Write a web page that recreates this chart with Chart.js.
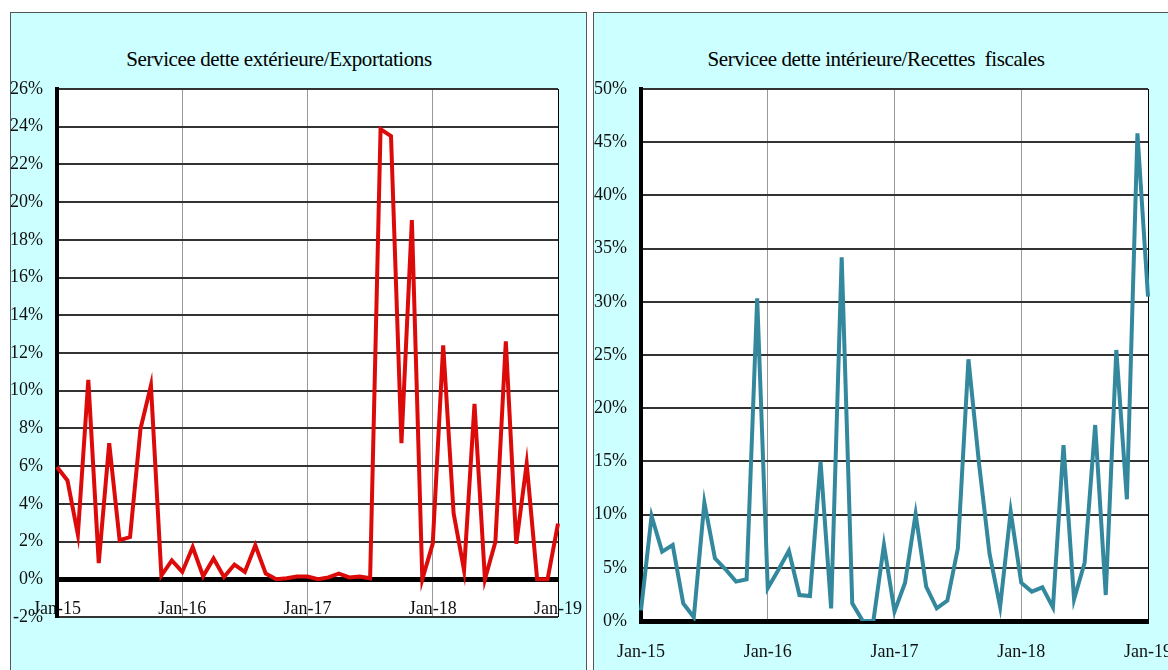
<!DOCTYPE html>
<html>
<head>
<meta charset="utf-8">
<script src="https://cdn.jsdelivr.net/npm/chart.js@4.4.1/dist/chart.umd.min.js"></script>
<style>
  body { margin: 0; width: 1168px; height: 670px; overflow: hidden; position: relative; background: #fff; font-family: "Liberation Serif", serif; }
  .panel { position: absolute; top: 12px; height: 680px; background: #ccffff; border: 1px solid #555; box-sizing: border-box; }
  #panel1 { left: 10px; width: 577px; }
  #panel2 { left: 593px; width: 620px; }
  .title { position: absolute; top: 47px; font-size: 21px; line-height: 24px; letter-spacing: -0.4px; text-align: center; color: #000; }
  #title1 { left: 0; width: 558px; }
  #title2 { left: 593px; width: 566px; }
  canvas { position: absolute; }
  #chart1 { left: 10px; top: 12px; }
  #chart2 { left: 593px; top: 12px; }
</style>
</head>
<body>
<div class="panel" id="panel1"></div>
<div class="panel" id="panel2"></div>
<div class="title" id="title1">Servicee dette extérieure/Exportations</div>
<div class="title" id="title2">Servicee dette intérieure/Recettes&nbsp; fiscales</div>
<canvas id="chart1" width="577" height="658"></canvas>
<canvas id="chart2" width="575" height="658"></canvas>
<script>
// months Jan-15 .. Jan-19
const monthNames = ["Jan","Feb","Mar","Apr","May","Jun","Jul","Aug","Sep","Oct","Nov","Dec"];
const years = ["15","16","17","18"];
const tickLabels = ["Jan-15","Jan-16","Jan-17","Jan-18","Jan-19"];

let months = [];
years.forEach((y) => {
  monthNames.forEach((m) => months.push(m + "-" + y));
});
months.push("Jan-19");

// Servicee dette extérieure / Exportations (%)
const extValues = [
  5.95, 5.24, 2.38, 10.58, 0.86, 7.22, 2.07, 2.24, 7.98, 10.28, 0.2, 1.0,
  0.39, 1.71, 0.16, 1.1, 0.12, 0.78, 0.39, 1.8, 0.3, 0.0, 0.05, 0.15,
  0.15, 0.0, 0.1, 0.3, 0.1, 0.15, 0.05, 23.87, 23.5, 7.22, 19.05, 0.0,
  1.89, 12.4, 3.5, 0.48, 9.3, 0.0, 1.98, 12.62, 1.89, 6.13, 0.0, 0.0, 2.95
];

// Servicee dette intérieure / Recettes fiscales (%)
const intValues = [
  1.0, 9.87, 6.52, 7.14, 1.66, 0.35, 11.12, 5.89, 4.86, 3.7, 3.92, 30.33,
  3.07, 4.79, 6.61, 2.44, 2.35, 14.97, 1.19, 34.18, 1.66, 0.0, 0.0, 7.14,
  0.9, 3.6, 10.06, 3.23, 1.19, 1.91, 6.83, 24.6, 14.82, 6.3, 1.35, 10.28,
  3.6, 2.76, 3.16, 1.28, 16.54, 2.04, 5.48, 18.42, 2.44, 25.47, 11.44, 45.83, 30.48
];

// white plot area
const plotBg = {
  id: "plotBg",
  beforeDraw(chart) {
    const a = chart.chartArea;
    const ctx = chart.ctx;
    ctx.save();
    ctx.fillStyle = "#fff";
    ctx.fillRect(a.left, a.top, a.right - a.left, a.bottom - a.top);
    ctx.restore();
  },
};

const tickFont = { family: "Liberation Serif", size: 18 };

function xTick(value) {
  const label = this.getLabelForValue(value);
  return tickLabels.includes(label) ? label : "";
}

function xGridColor(ctx) {
  if (ctx.index === months.length - 1) return "#000";
  return ctx.index % 12 === 0 ? "#999" : "rgba(0,0,0,0)";
}

const config1 = {
  type: "line",
  data: {
    labels: months,
    datasets: [
      {
        data: extValues,
        borderColor: "#dd0a0a",
        borderWidth: 4,
        pointRadius: 0,
        tension: 0,
        fill: false,
      },
    ],
  },
  options: {
    responsive: false,
    animation: false,
    layout: { padding: { top: 77, right: 29, bottom: 53, left: 0 } },
    plugins: { legend: { display: false }, tooltip: { enabled: false } },
    scales: {
      x: {
        position: { y: 0 },
        offset: false,
        afterFit: (scale) => { scale.paddingLeft = 0; scale.paddingRight = 0; },
        grid: { color: xGridColor, lineWidth: 1, drawTicks: false },
        border: { display: true, color: "#000", width: 5 },
        ticks: { autoSkip: false, maxRotation: 0, padding: 19, color: "#111", font: tickFont, callback: xTick },
      },
      y: {
        min: -2,
        max: 26,
        afterFit: (scale) => { scale.width = 47; },
        grid: {
          color: "#333",
          lineWidth: (ctx) => (ctx.tick && ctx.tick.value === 0 ? 5 : 2),
          drawTicks: false,
        },
        border: { display: true, color: "#000", width: 4 },
        ticks: { stepSize: 2, padding: 14, color: "#111", font: tickFont, callback: (v) => v + "%" },
      },
    },
  },
  plugins: [plotBg],
};

const config2 = {
  type: "line",
  data: {
    labels: months,
    datasets: [
      {
        data: intValues,
        borderColor: "#33889e",
        borderWidth: 4,
        pointRadius: 0,
        tension: 0,
        fill: false,
      },
    ],
  },
  options: {
    responsive: false,
    animation: false,
    layout: { padding: { top: 77, right: 20, bottom: 0, left: 0 } },
    plugins: { legend: { display: false }, tooltip: { enabled: false } },
    scales: {
      x: {
        offset: false,
        afterFit: (scale) => { scale.height = 49; scale.paddingLeft = 0; scale.paddingRight = 0; },
        grid: { color: xGridColor, lineWidth: 1, drawTicks: false },
        border: { display: true, color: "#000", width: 5 },
        ticks: { autoSkip: false, maxRotation: 0, padding: 20, color: "#111", font: tickFont, callback: xTick },
      },
      y: {
        min: 0,
        max: 50,
        afterFit: (scale) => { scale.width = 48; },
        grid: { color: "#333", lineWidth: 2, drawTicks: false },
        border: { display: true, color: "#000", width: 4 },
        ticks: { stepSize: 5, padding: 14, color: "#111", font: tickFont, callback: (v) => v + "%" },
      },
    },
  },
  plugins: [plotBg],
};

const chart1 = new Chart(document.getElementById("chart1"), config1);
const chart2 = new Chart(document.getElementById("chart2"), config2);
</script>
</body>
</html>
